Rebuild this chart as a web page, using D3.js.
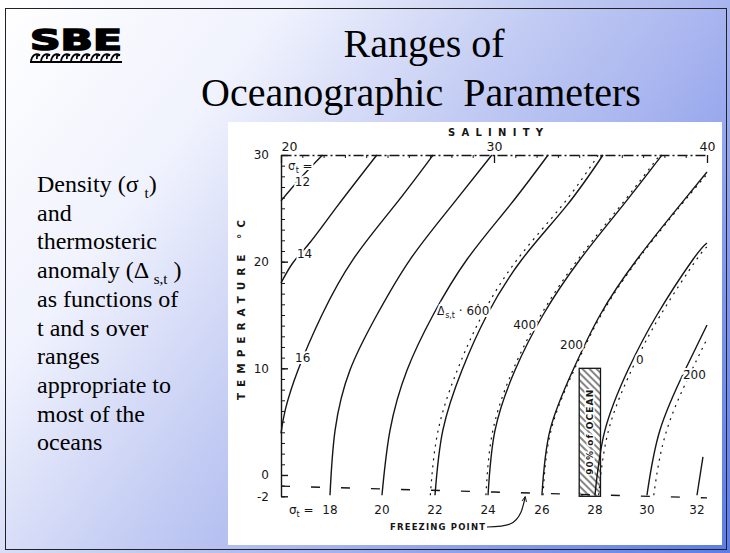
<!DOCTYPE html>
<html>
<head>
<meta charset="utf-8">
<script src="https://cdn.jsdelivr.net/npm/d3@7"></script>
<style>
  body { margin: 0; }
  svg { display: block; }
</style>
</head>
<body>
<svg id="slide"></svg>
<script>
// ---- values (salinity, temperature in °C) ----
const salTicks = [20, 30, 40];
const tempTicks = [30, 20, 10, 0, -2];

const sigmaLevels = [12, 14, 16, 18, 20, 22, 24, 26, 28, 30, 32];
const sigmaSal = [
  [20.0, 20.9, 21.95],
  [20.0, 20.56, 21.36, 22.68, 24.5],
  [20.0, 20.2, 20.8, 21.92, 23.38, 25.35, 27.14],
  [22.3, 22.54, 23.24, 24.5, 26.06, 28.03, 29.9],
  [24.74, 25.12, 25.92, 27.14, 28.73, 30.75, 32.54],
  [27.23, 27.6, 28.5, 29.67, 31.31, 33.43, 35.12],
  [29.72, 30.05, 30.99, 32.3, 34.04, 36.06, 37.89],
  [32.25, 32.63, 33.71, 34.98, 36.71, 38.73, 40.0],
  [34.74, 35.21, 36.29, 37.65, 39.34, 40.0],
  [37.18, 37.79, 38.97, 40.0],
  [39.53, 39.81]
];
const sigmaTemp = [
  [25.7, 27.8, 30],
  [18.0, 19.9, 21.8, 25.3, 30],
  [3.9, 6.1, 9.84, 15.0, 20.2, 25.3, 30],
  [-1.9, 4.2, 9.84, 15.0, 20.2, 25.3, 30],
  [-1.9, 4.2, 9.84, 15.0, 20.2, 25.3, 30],
  [-1.9, 4.2, 9.84, 15.0, 20.2, 25.3, 30],
  [-1.9, 4.2, 9.84, 15.0, 20.2, 25.3, 30],
  [-1.9, 4.2, 9.84, 15.0, 20.2, 25.3, 28.4],
  [-1.9, 4.2, 9.84, 15.0, 20.2, 21.75],
  [-1.9, 4.2, 9.84, 14.06],
  [-1.9, 1.7]
];

// thermosteric anomaly (dotted) lines
const deltaLevels = [600, 400, 200, 0, -200];
const deltaSal = [
  [27.01, 27.38, 28.28, 29.45, 31.09, 33.21, 34.9],
  [29.62, 29.95, 30.89, 32.2, 33.94, 35.96, 37.79],
  [32.3, 32.68, 33.76, 35.03, 36.76, 38.78, 40.0],
  [34.91, 35.38, 36.46, 37.82, 39.51, 40.0],
  [37.5, 38.11, 39.29, 40.0]
];
const deltaTemp = [
  [-1.9, 4.2, 9.84, 15.0, 20.2, 25.3, 30],
  [-1.9, 4.2, 9.84, 15.0, 20.2, 25.3, 30],
  [-1.9, 4.2, 9.84, 15.0, 20.2, 25.3, 28.2],
  [-1.9, 4.2, 9.84, 15.0, 20.2, 21.35],
  [-1.9, 4.2, 9.84, 12.75]
];

const freezeSal = [20, 30, 40];
const freezeTemp = [-1.05, -1.6, -2.15];

const oceanSal = [34, 35];
const oceanTemp = [-2, 10];

const arrowSal = [29.67, 30.75, 31.27, 31.46];
const arrowTemp = [-4.88, -4.6, -3.47, -2.07];

const bodyLines = [
  "Density (σ _{t})",
  "and",
  "thermosteric",
  "anomaly (Δ _{s,t} )",
  "as functions of",
  "t and s over",
  "ranges",
  "appropriate to",
  "most of the",
  "oceans"
];

// ---- slide ----
const width = 730, height = 553;
const svg = d3.select("#slide").attr("width", width).attr("height", height);
const defs = svg.append("defs");

const grad = defs.append("linearGradient")
  .attr("id", "bg")
  .attr("gradientUnits", "userSpaceOnUse")
  .attr("x1", 0).attr("y1", 0).attr("x2", width).attr("y2", height);
[[0, "#ffffff"], [0.25, "#f0f2fd"], [0.47, "#c3ccf3"], [0.63, "#a9b5ef"], [0.85, "#7a92ea"], [1, "#5c7de6"]]
  .forEach(s => grad.append("stop").attr("offset", s[0]).attr("stop-color", s[1]));

const hatch = defs.append("pattern")
  .attr("id", "hatch")
  .attr("patternUnits", "userSpaceOnUse")
  .attr("width", 5).attr("height", 5)
  .attr("patternTransform", "rotate(-45)");
hatch.append("rect").attr("width", 5).attr("height", 5).attr("fill", "#fff");
hatch.append("line").attr("x1", 1).attr("y1", 0).attr("x2", 1).attr("y2", 5)
  .attr("stroke", "#222").attr("stroke-width", 1.1);

defs.append("marker")
  .attr("id", "tip")
  .attr("viewBox", "0 0 10 10")
  .attr("refX", 8).attr("refY", 5)
  .attr("markerWidth", 5).attr("markerHeight", 5)
  .attr("orient", "auto")
  .append("path").attr("d", "M0,1L9,5L0,9").attr("fill", "none").attr("stroke", "#111").attr("stroke-width", 1.5);

svg.append("rect").attr("width", width).attr("height", height).attr("fill", "url(#bg)");
svg.append("rect")
  .attr("x", 5.5).attr("y", 8.5).attr("width", 721).attr("height", 541)
  .attr("fill", "none").attr("stroke", "#222");

// logo
svg.append("text")
  .attr("x", 30).attr("y", 50)
  .attr("font-family", "DejaVu Sans")
  .attr("font-weight", "bold")
  .attr("font-size", 29)
  .attr("textLength", 92)
  .attr("lengthAdjust", "spacingAndGlyphs")
  .attr("stroke", "#000").attr("stroke-width", 1.6)
  .text("SBE");

const wave = d3.path();
for (let i = 0; i < 9; i++) {
  const x0 = 31 + i * 10;
  wave.moveTo(x0, 61);
  wave.quadraticCurveTo(x0 + 2, 52, x0 + 9, 55);
  wave.quadraticCurveTo(x0 + 5, 55, x0 + 6, 59);
}
wave.moveTo(30, 62);
wave.lineTo(122, 62);
svg.append("path").attr("d", wave.toString())
  .attr("fill", "none").attr("stroke", "#000").attr("stroke-width", 1.8);

// title
svg.append("text")
  .attr("x", 424).attr("y", 57)
  .attr("text-anchor", "middle")
  .attr("font-family", "Liberation Serif")
  .attr("font-size", 40)
  .text("Ranges of");
svg.append("text")
  .attr("x", 421).attr("y", 106)
  .attr("text-anchor", "middle")
  .attr("font-family", "Liberation Serif")
  .attr("font-size", 40)
  .style("white-space", "pre")
  .text("Oceanographic  Parameters");

// body text, "_{..}" marks a subscript
const body = svg.append("text")
  .attr("font-family", "Liberation Serif")
  .attr("font-size", 24)
  .attr("fill", "#000");
bodyLines.forEach((ln, i) => {
  const row = body.append("tspan").attr("x", 37).attr("y", 192 + i * 28.7);
  let shift = 0;
  ln.split(/(_\{[^}]*\})/).filter(p => p).forEach(part => {
    if (part.startsWith("_{")) {
      row.append("tspan").attr("font-size", 15).attr("dy", 6).text(part.slice(2, -1));
      shift = -6;
    } else {
      row.append("tspan").attr("dy", shift).style("white-space", "pre").text(part);
      shift = 0;
    }
  });
});

// ---- chart ----
const x = d3.scaleLinear().domain([20, 40]).range([281, 707]);
const y = d3.scaleLinear().domain([-2, 30]).range([496.3, 155]);

const chart = svg.append("g");
chart.append("rect")
  .attr("x", 228).attr("y", 122).attr("width", 494).attr("height", 423)
  .attr("fill", "#fff");

const ink = "#161616";
const font = "DejaVu Sans";

// left axis
chart.append("g")
  .attr("transform", `translate(${x(20)},0)`)
  .call(d3.axisLeft(y).tickValues(tempTicks).tickSizeInner(-7).tickSizeOuter(0).tickPadding(12).tickFormat(String))
  .call(g => g.selectAll("line, path").attr("stroke", ink).attr("stroke-width", 1.4))
  .call(g => g.selectAll("text").attr("font-family", font).attr("font-size", 12).attr("fill", ink));
chart.append("g")
  .attr("transform", `translate(${x(20)},0)`)
  .call(d3.axisLeft(y).ticks(32).tickSizeInner(-4).tickSizeOuter(0).tickFormat(""))
  .call(g => g.select(".domain").remove())
  .call(g => g.selectAll("line").attr("stroke", ink));

// top axis
chart.append("g")
  .attr("transform", `translate(0,${y(30)})`)
  .call(d3.axisTop(x).tickValues(salTicks).tickSizeInner(-8).tickSizeOuter(0).tickPadding(4).tickFormat(String))
  .call(g => g.select(".domain").attr("stroke", ink).attr("stroke-width", 1.3).attr("stroke-dasharray", "10,3,2,3"))
  .call(g => g.selectAll("line").attr("stroke", ink).attr("stroke-width", 1.3))
  .call(g => g.selectAll("text").attr("font-family", font).attr("font-size", 12.5).attr("fill", ink)
    .attr("text-anchor", d => d === 20 ? "start" : "middle"));
chart.append("g")
  .attr("transform", `translate(0,${y(30)})`)
  .call(d3.axisTop(x).ticks(20).tickSizeInner(-3).tickSizeOuter(0).tickFormat(""))
  .call(g => g.select(".domain").remove())
  .call(g => g.selectAll("line").attr("stroke", ink));

// axis titles
chart.append("text")
  .attr("x", 448).attr("y", 136)
  .attr("font-family", font).attr("font-size", 10).attr("font-weight", "bold")
  .attr("textLength", 95).attr("lengthAdjust", "spacing")
  .attr("fill", ink)
  .text("SALINITY");
chart.append("text")
  .attr("transform", "translate(245,310) rotate(-90)")
  .attr("text-anchor", "middle")
  .attr("font-family", font).attr("font-size", 10.5).attr("font-weight", "bold")
  .attr("textLength", 180).attr("lengthAdjust", "spacing")
  .attr("fill", ink)
  .text("TEMPERATURE °C");

// hatched 90% of ocean box
chart.append("rect")
  .attr("x", x(oceanSal[0])).attr("y", y(oceanTemp[1]))
  .attr("width", x(oceanSal[1]) - x(oceanSal[0]))
  .attr("height", y(oceanTemp[0]) - y(oceanTemp[1]))
  .attr("fill", "url(#hatch)")
  .attr("stroke", ink).attr("stroke-width", 1.3);
chart.append("text")
  .attr("transform", `translate(${(x(oceanSal[0]) + x(oceanSal[1])) / 2 + 3.5},${y(4)}) rotate(-90)`)
  .attr("text-anchor", "middle")
  .attr("font-family", font).attr("font-size", 9).attr("font-weight", "bold")
  .attr("textLength", 85).attr("lengthAdjust", "spacing")
  .attr("fill", ink)
  .attr("stroke", "#fff").attr("stroke-width", 3).attr("paint-order", "stroke")
  .text("90% of OCEAN");

const curve = d3.line()
  .x(d => x(d[0]))
  .y(d => y(d[1]))
  .curve(d3.curveNatural);

// thermosteric anomaly dotted lines
deltaLevels.forEach((lev, i) => {
  chart.append("path")
    .attr("d", curve(d3.zip(deltaSal[i], deltaTemp[i])))
    .attr("fill", "none")
    .attr("stroke", ink)
    .attr("stroke-width", 1.2)
    .attr("stroke-dasharray", "2,5");
});

// isopycnals
sigmaLevels.forEach((lev, i) => {
  chart.append("path")
    .attr("d", curve(d3.zip(sigmaSal[i], sigmaTemp[i])))
    .attr("fill", "none")
    .attr("stroke", ink)
    .attr("stroke-width", 1.4);
});

// freezing point
chart.append("path")
  .attr("d", curve(d3.zip(freezeSal, freezeTemp)))
  .attr("fill", "none")
  .attr("stroke", ink)
  .attr("stroke-width", 1.4)
  .attr("stroke-dasharray", "9,21");
chart.append("path")
  .attr("d", curve(d3.zip(arrowSal, arrowTemp)))
  .attr("fill", "none")
  .attr("stroke", ink)
  .attr("stroke-width", 1.2)
  .attr("marker-end", "url(#tip)");
chart.append("text")
  .attr("x", 390).attr("y", 530)
  .attr("font-family", font).attr("font-size", 8.5).attr("font-weight", "bold")
  .attr("textLength", 95).attr("lengthAdjust", "spacing")
  .attr("fill", ink)
  .text("FREEZING POINT");

// labels on the curves
const halo = sel => sel
  .attr("font-family", font).attr("font-size", 12).attr("fill", ink)
  .attr("stroke", "#fff").attr("stroke-width", 4).attr("paint-order", "stroke");

const sigTop = chart.append("text").attr("x", x(20.33)).attr("y", y(28.6)).call(halo);
sigTop.append("tspan").text("σ");
sigTop.append("tspan").attr("font-size", 8).attr("dy", 3).text("t");
sigTop.append("tspan").attr("dy", -3).text(" =");

chart.append("text").attr("x", x(20.65)).attr("y", y(27.1)).call(halo).text(sigmaLevels[0]);
chart.append("text").attr("x", x(20.75)).attr("y", y(20.3)).call(halo).text(sigmaLevels[1]);
chart.append("text").attr("x", x(20.66)).attr("y", y(10.6)).call(halo).text(sigmaLevels[2]);

// bottom sigma-t labels at the curve feet
sigmaLevels.slice(3).forEach((lev, i) => {
  chart.append("text")
    .attr("x", x(sigmaSal[i + 3][0]))
    .attr("y", 514)
    .attr("text-anchor", "middle")
    .attr("font-family", font).attr("font-size", 12).attr("fill", ink)
    .text(lev);
});
const sigBot = chart.append("text").attr("x", 289).attr("y", 514)
  .attr("font-family", font).attr("font-size", 12).attr("fill", ink);
sigBot.append("tspan").text("σ");
sigBot.append("tspan").attr("font-size", 8).attr("dy", 3).text("t");
sigBot.append("tspan").attr("dy", -3).text(" =");

// thermosteric anomaly labels
const dl = chart.append("text").attr("x", x(27.32)).attr("y", y(15.0)).call(halo);
dl.append("tspan").text("Δ");
dl.append("tspan").attr("font-size", 8).attr("dy", 3).text("s,t");
dl.append("tspan").attr("dy", -3).style("white-space", "pre").text(" · 60\u03070");

chart.append("text").attr("x", x(30.9)).attr("y", y(13.7)).call(halo).text("40\u03070");
chart.append("text").attr("x", x(33.1)).attr("y", y(11.8)).call(halo).text("20\u03070");
chart.append("text").attr("x", x(36.67)).attr("y", y(10.4)).call(halo).text(deltaLevels[3]);
chart.append("text").attr("x", x(38.87)).attr("y", y(9.0)).call(halo).text("2\u030400");
</script>
</body>
</html>
